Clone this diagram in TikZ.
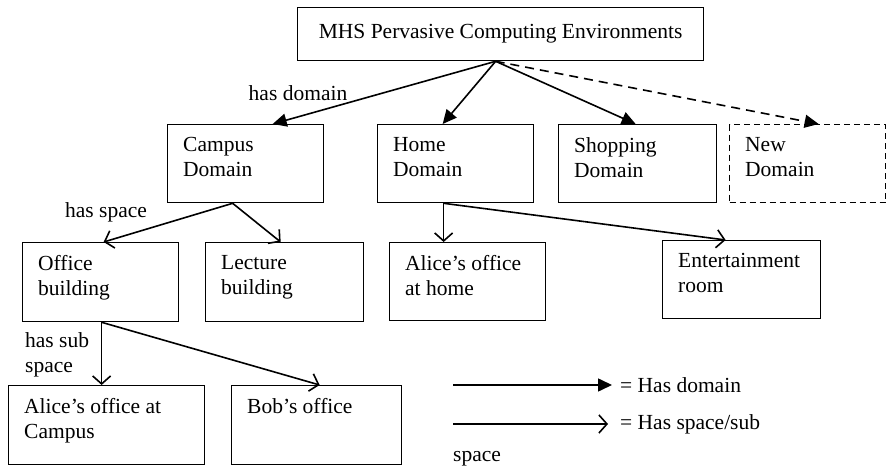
\documentclass[tikz,border=0pt]{standalone}
\usepackage{fontspec}
\setmainfont{Liberation Serif}
\usetikzlibrary{arrows.meta}
\begin{document}
\begin{tikzpicture}[x=1pt,y=-1pt,
  font=\fontsize{21.5}{25}\selectfont,
  box/.style={draw, line width=1.3pt, anchor=north west, inner sep=0pt},
  newbox/.style={box, dash pattern=on 6pt off 4pt},
  txt/.style={anchor=north west, align=left, inner sep=0pt, xshift=16pt, yshift=-13pt},
  dom/.style={line width=1.6pt, -{Triangle[length=14pt,width=13pt]}},
  spc/.style={line width=1.6pt, -{Straight Barb[length=8pt,width=18pt,line width=1.6pt]}},
  lbl/.style={inner sep=0pt}
]
\useasboundingbox (0,0) rectangle (887,470);

% root
\node[box, minimum width=406pt, minimum height=53pt] (mhs) at (297,7) {MHS Pervasive Computing Environments};

% domains
\node[box, minimum width=156pt, minimum height=78pt] (campus) at (167,124) {};
\node[txt] (campust) at (campus.north west) {Campus\\Domain};
\node[box, minimum width=156pt, minimum height=78pt] (home) at (377,124) {};
\node[txt] (homet) at (home.north west) {Home\\Domain};
\node[box, minimum width=158pt, minimum height=78pt] (shop) at (558,124) {};
\node[txt] (shopt) at (shop.north west) {Shopping\\Domain};
\node[newbox, minimum width=156pt, minimum height=78pt] (newd) at (729,124) {};
\node[txt] (newdt) at (newd.north west) {New\\Domain};

% spaces
\node[box, minimum width=156pt, minimum height=79pt] (office) at (22,242) {};
\node[txt] (officet) at (office.north west) {Office\\building};
\node[box, minimum width=158pt, minimum height=79pt] (lecture) at (205,242) {};
\node[txt] (lecturet) at (lecture.north west) {Lecture\\building};
\node[box, minimum width=156pt, minimum height=78pt] (ahome) at (389,242) {};
\node[txt] (ahomet) at (ahome.north west) {Alice’s office\\at home};
\node[box, minimum width=158pt, minimum height=78pt] (ent) at (662,240) {};
\node[txt] (entt) at (ent.north west) {Entertainment\\room};

% sub spaces
\node[box, minimum width=196pt, minimum height=79pt] (acampus) at (8,385) {};
\node[txt] (acampust) at (acampus.north west) {Alice’s office at\\Campus};
\node[box, minimum width=170pt, minimum height=79pt] (bob) at (231,385) {};
\node[txt] (bobt) at (bob.north west) {Bob’s office};

% has domain
\draw[dom] ([xshift=-5pt]mhs.south) -- ([xshift=27pt]campus.north);
\draw[dom] ([xshift=-5pt]mhs.south) -- ([xshift=-13pt]home.north);
\draw[dom] ([xshift=-5pt]mhs.south) -- ([xshift=-2pt]shop.north);
\draw[dom, dash pattern=on 9pt off 6pt] ([xshift=-5pt]mhs.south) -- ([xshift=11pt]newd.north);

% has space
\draw[spc] ([xshift=-13pt]campus.south) -- ([xshift=3pt]office.north);
\draw[spc] ([xshift=-13pt]campus.south) -- ([xshift=-4pt]lecture.north);
\draw[spc] ([xshift=-12pt]home.south) -- ([xshift=-24pt]ahome.north);
\draw[spc] ([xshift=-12pt]home.south) -- ([xshift=-16pt]ent.north);

% has sub space
\draw[spc] ([xshift=1pt]office.south) -- ([xshift=-5pt]acampus.north);
\draw[spc] ([xshift=1pt]office.south) -- ([xshift=3pt]bob.north);

% edge labels
\node[lbl] (hd) at (298,93) {has domain};
\node[lbl] (hs) at (106,212) {has space};
\node[lbl, anchor=west, align=left] (hss) at (25,355) {has sub\\space};

% legend
\coordinate (l1) at (453,385);
\node[lbl, anchor=west] (ld) at (620,385) {= Has domain};
\draw[dom] (l1) -- ([xshift=-8pt]ld.west);
\coordinate (l2) at (453,424);
\node[lbl, anchor=west] (ls) at (620,424) {= Has space/sub};
\draw[spc] (l2) -- ([xshift=-12pt]ls.west);
\node[lbl, anchor=west] (lsp) at (453,459) {space};
\end{tikzpicture}
\end{document}
